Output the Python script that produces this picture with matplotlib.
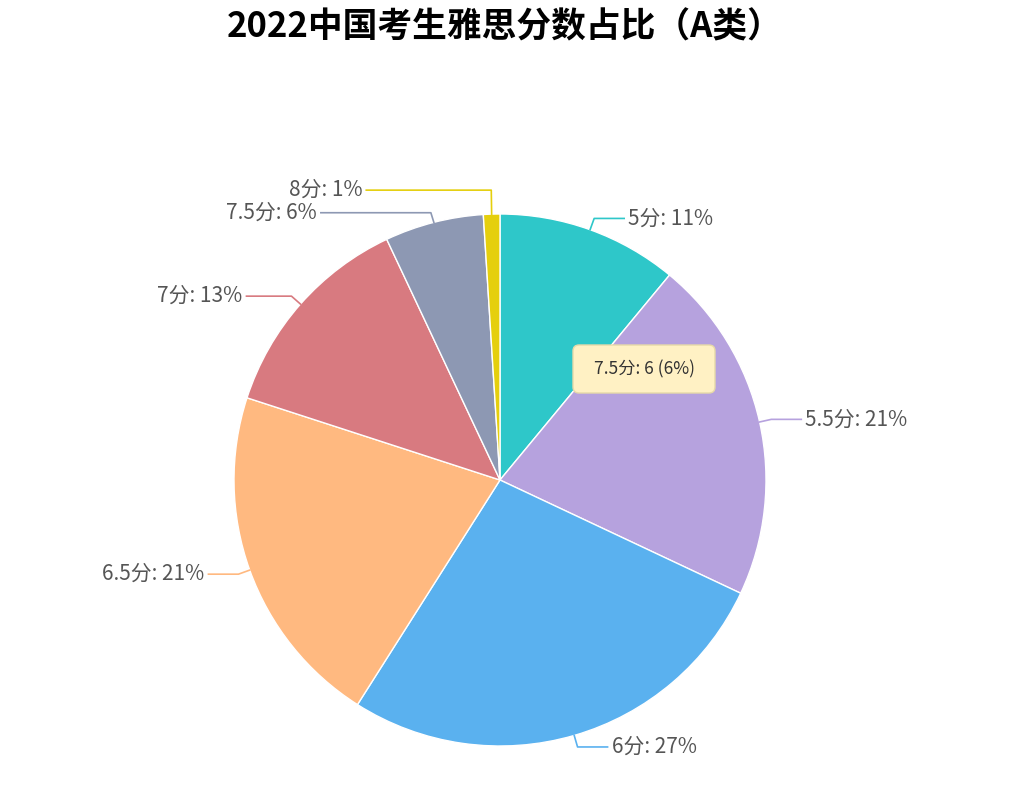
import numpy as np
import matplotlib.pyplot as plt
from matplotlib.patches import FancyBboxPatch

plt.rcParams['font.family'] = ['Noto Sans CJK SC', 'DejaVu Sans']

labels = ["5分", "5.5分", "6分", "6.5分", "7分", "7.5分", "8分"]
values = [11, 21, 27, 21, 13, 6, 1]
colors = ["#2ec7c9", "#b6a2de", "#5ab1ef", "#ffb980", "#d87a80", "#8d98b3", "#e5cf0d"]

W, H = 1010, 807
fig = plt.figure(figsize=(W / 100, H / 100), dpi=100)
ax = fig.add_axes([0, 0, 1, 1])

cx, cy, R = 500, H - 480, 266
ax.pie(values, colors=colors, startangle=90, counterclock=False, radius=R,
       center=(cx, cy), frame=True, wedgeprops=dict(edgecolor="white", linewidth=1))
ax.set_xlim(0, W)
ax.set_ylim(0, H)
ax.set_aspect("equal")
ax.axis("off")

total = sum(values)
# label nudges to avoid overlaps of the small slices
nudge = [0, 0, 0, 0, 0, -2, 12]
hlen = [30, 30, 30, 30, 45, 110, 125]
start = 90.0
for lab, v, c, dy, hl in zip(labels, values, colors, nudge, hlen):
    span = 360 * v / total
    mid = np.radians(start - span / 2)
    start -= span
    x0, y0 = cx + R * np.cos(mid), cy + R * np.sin(mid)
    x1, y1 = cx + (R + 12) * np.cos(mid), cy + (R + 12) * np.sin(mid) + dy
    side = 1 if np.cos(mid) >= 0 else -1
    x2 = x1 + side * hl
    ax.plot([x0, x1, x2], [y0, y1, y1], color=c, lw=1.2, zorder=1)
    pct = round(100 * v / total)
    ax.text(x2 + side * 4, y1, f"{lab}: {pct}%", fontsize=15, color="#555555",
            ha="left" if side > 0 else "right", va="center")

# tooltip
box = FancyBboxPatch((573, H - 393), 142, 48, boxstyle="round,pad=0,rounding_size=6",
                     facecolor="#fff1c4", edgecolor="#e6d9a8", lw=1, zorder=5)
ax.add_patch(box)
ax.text(644, H - 369, "7.5分: 6 (6%)", fontsize=12.5, color="#333333",
        ha="center", va="center", zorder=6)

ax.text(W / 2, H - 27, "2022中国考生雅思分数占比（A类）", fontsize=25, fontweight="bold",
        ha="center", va="center", color="black")

fig.savefig("out.png", dpi=100)
